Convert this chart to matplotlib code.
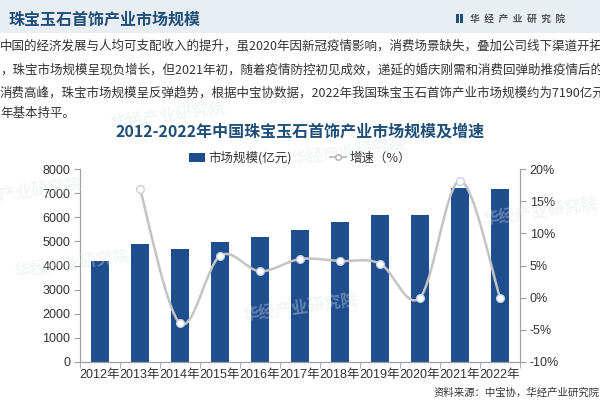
import matplotlib
matplotlib.use("Agg")
import matplotlib.pyplot as plt
import numpy as np
from matplotlib.path import Path
from matplotlib.patches import PathPatch, Rectangle
from matplotlib.lines import Line2D

plt.rcParams['font.family'] = ['Noto Sans CJK SC', 'DejaVu Sans']

years = ["2012年", "2013年", "2014年", "2015年", "2016年", "2017年",
         "2018年", "2019年", "2020年", "2021年", "2022年"]
market_size = [4200, 4880, 4680, 4980, 5180, 5470, 5800, 6090, 6090, 7200, 7190]
growth_years_idx = [1, 2, 3, 4, 5, 6, 7, 8, 9, 10]
growth = [16.9, -4.0, 6.5, 4.1, 6.0, 5.7, 5.3, 0.0, 18.2, 0.0]

header_title = "珠宝玉石首饰产业市场规模"
paragraph = [
    "中国的经济发展与人均可支配收入的提升，虽2020年因新冠疫情影响，消费场景缺失，叠加公司线下渠道开拓",
    "，珠宝市场规模呈现负增长，但2021年初，随着疫情防控初见成效，递延的婚庆刚需和消费回弹助推疫情后的",
    "消费高峰，珠宝市场规模呈反弹趋势，根据中宝协数据，2022年我国珠宝玉石首饰产业市场规模约为7190亿元",
    "年基本持平。",
]
chart_title = "2012-2022年中国珠宝玉石首饰产业市场规模及增速"
source = "资料来源：中宝协，华经产业研究院"

BAR = "#1f4e8f"
LINE = "#c4c4c4"
TXT = "#333333"
TITLE = "#1f4e79"

fig = plt.figure(figsize=(6, 4), dpi=100)
fig.patch.set_facecolor("white")

# header band
fig.patches.append(Rectangle((0, 1 - 33 / 400), 1, 33 / 400, transform=fig.transFigure,
                             facecolor="#e9eef4", edgecolor="none", zorder=0))
fig.text(8 / 600, 1 - 19 / 400, header_title, fontsize=11.5, fontweight="bold",
         color=TITLE, va="center", ha="left")
fig.patches.append(Rectangle((456 / 600, 1 - 23 / 400), 3 / 600, 9 / 400, transform=fig.transFigure,
                             facecolor=TITLE, edgecolor="none"))
fig.patches.append(Rectangle((460 / 600, 1 - 23 / 400), 3 / 600, 9 / 400, transform=fig.transFigure,
                             facecolor=TITLE, edgecolor="none"))
fig.text(470 / 600, 1 - 18.5 / 400, "华  经  产  业  研  究  院", fontsize=7, fontweight="bold",
         color="#555555", va="center", ha="left")

line_y = [46, 70, 93, 113]
for y, s in zip(line_y, paragraph):
    fig.text(0 / 600, 1 - y / 400, s, fontsize=9, color=TXT, va="center", ha="left")

fig.text(0.5, 1 - 131 / 400, chart_title, fontsize=11.5, fontweight="bold",
         color=TITLE, va="center", ha="center")

# faint watermarks
for (wx, wy) in [(0.28, 0.71), (0.58, 0.62), (0.12, 0.34), (0.5, 0.23), (0.9, 0.47), (0.04, 0.52)]:
    fig.text(wx, wy, "华经产业研究院", fontsize=12, color="#dfe3ea", alpha=0.35,
             rotation=8, ha="center", va="center", fontweight="bold", zorder=0)

ax = fig.add_axes([80 / 600, 1 - 362 / 400, 440 / 600, 193 / 400])
ax.set_facecolor("none")
x = np.arange(len(years))
ax.bar(x, market_size, width=0.45, color=BAR, zorder=2)
ax.set_xlim(-0.5, len(years) - 0.5)
ax.set_ylim(0, 8000)
ax.set_yticks(np.arange(0, 8001, 1000))
ax.set_xticks(x)
ax.set_xticklabels(years, fontsize=9, color=TXT, family=['Liberation Sans', 'Noto Sans CJK SC'])
ax.set_xticks(np.arange(-0.5, len(years), 1), minor=True)
ax.tick_params(axis="x", which="major", length=0, pad=5)
ax.tick_params(axis="x", which="minor", length=4, color="#a0a0a0", direction="out")
ax.tick_params(axis="y", length=4, color="#a0a0a0", labelsize=9, labelcolor=TXT, pad=3)
for lab in ax.get_yticklabels():
    lab.set_family(['Liberation Sans', 'Noto Sans CJK SC'])
ax.spines["top"].set_visible(False)
for sp in ["left", "bottom", "right"]:
    ax.spines[sp].set_color("#a0a0a0")
    ax.spines[sp].set_linewidth(0.8)

ax2 = ax.twinx()
ax2.set_ylim(-10, 20)
ax2.set_yticks(np.arange(-10, 21, 5))
ax2.set_yticklabels([f"{v}%" for v in range(-10, 21, 5)], fontsize=9, color=TXT,
                    family=['Liberation Sans', 'Noto Sans CJK SC'])
ax2.tick_params(axis="y", length=4, color="#a0a0a0", pad=3)
ax2.spines["top"].set_visible(False)
for sp in ["left", "bottom", "right"]:
    ax2.spines[sp].set_color("#a0a0a0")
    ax2.spines[sp].set_linewidth(0.8)

# smoothed growth line (Catmull-Rom converted to cubic Bezier)
gx = np.array(growth_years_idx, dtype=float)
gy = np.array(growth, dtype=float)
pts = np.column_stack([gx, gy])
verts = [tuple(pts[0])]
codes = [Path.MOVETO]
t = 1 / 6.0
for i in range(len(pts) - 1):
    p0 = pts[i - 1] if i > 0 else pts[i]
    p1 = pts[i]
    p2 = pts[i + 1]
    p3 = pts[i + 2] if i + 2 < len(pts) else pts[i + 1]
    c1 = p1 + (p2 - p0) * t
    c2 = p2 - (p3 - p1) * t
    verts += [tuple(c1), tuple(c2), tuple(p2)]
    codes += [Path.CURVE4] * 3
path = Path(verts, codes)
ax2.add_patch(PathPatch(path, facecolor="none", edgecolor=LINE, lw=1.8, zorder=3))
ax2.plot(gx, gy, linestyle="none", marker="o", markersize=5.5, markerfacecolor="white",
         markeredgecolor="#c8d4e4", markeredgewidth=1.0, zorder=4)

# legend
handles = [Rectangle((0, 0), 1, 1, facecolor=BAR, edgecolor="none"),
           Line2D([0], [0], color=LINE, lw=1.5, marker="o", markersize=4,
                  markerfacecolor="white", markeredgecolor="#b0b0b0")]
fig.legend(handles, ["市场规模(亿元)", "增速（%）"], loc="center",
           bbox_to_anchor=(0.5, 1 - 158 / 400), ncol=2, frameon=False, fontsize=9,
           handlelength=1.3, handleheight=0.8, columnspacing=3.0, handletextpad=0.3,
           labelcolor=TXT)

fig.text(1.0, 1 - 393 / 400, source, fontsize=7.5, color=TXT, ha="right", va="center")

fig.savefig("out.png", dpi=100)
